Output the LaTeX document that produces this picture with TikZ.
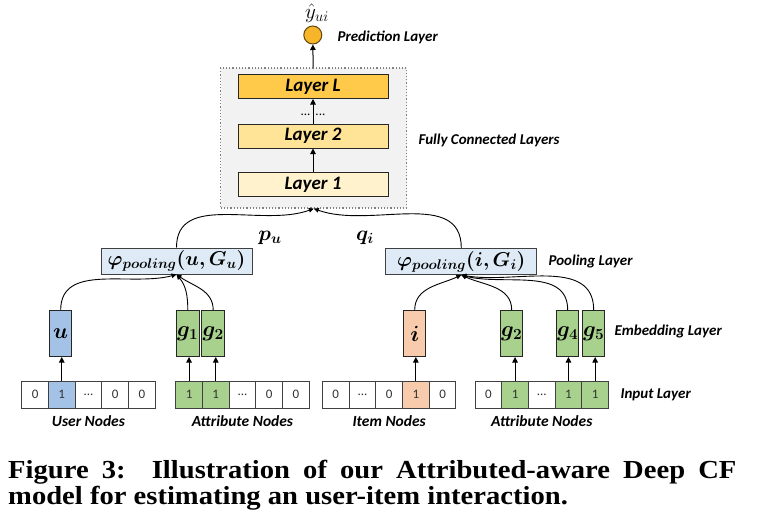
\RequirePackage{fix-cm}
\documentclass[tikz,border=0pt]{standalone}
\usepackage{bm}
\usepackage{fontspec}
\newfontfamily\calfont{Carlito}
\newfontfamily\capfont{Liberation Serif}
\usetikzlibrary{arrows.meta, positioning}
\definecolor{userblue}{HTML}{A4C2E6}
\definecolor{poolblue}{HTML}{DEEBF7}
\definecolor{attrgreen}{HTML}{A9D18E}
\definecolor{itemsalmon}{HTML}{F8CBAD}
\definecolor{layL}{HTML}{FFC94A}
\definecolor{layB}{HTML}{FFE397}
\definecolor{layA}{HTML}{FFF2CC}
\definecolor{predgold}{HTML}{F7B52A}
\definecolor{fcgray}{HTML}{F2F2F2}
\newcommand{\ellip}{...}

\tikzset{
  tag/.style={anchor=west, font=\calfont\bfseries\itshape\fontsize{15}{18}\selectfont},
  grp/.style={font=\calfont\bfseries\itshape\fontsize{15.5}{18}\selectfont},
  layerbox/.style={draw=black!85, line width=1pt, minimum width=150pt, minimum height=24pt,
    inner sep=0pt, font=\calfont\bfseries\itshape\fontsize{19}{22}\selectfont},
  poolbox/.style={draw=black!75, fill=poolblue, line width=1pt, minimum width=151pt,
    minimum height=26pt, inner sep=0pt, font=\fontsize{20}{24}\selectfont},
  embbox/.style={draw=black!85, line width=1pt, minimum width=22.5pt, minimum height=46pt,
    inner sep=0pt, font=\fontsize{22}{26}\selectfont},
  cell/.style={draw=black!75, line width=0.9pt, minimum width=26.7pt, minimum height=27pt,
    inner sep=0pt, text=black!80, font=\calfont\fontsize{13}{15}\selectfont},
  arr/.style={-{Triangle[length=5.5pt,width=5.5pt]}, line width=1pt},
  link/.style={-{Triangle[length=5pt,width=4.5pt]}, line width=0.9pt},
}

\begin{document}
\begin{tikzpicture}[x=1pt, y=-1pt]
  \useasboundingbox (0,0) rectangle (758,519);

  % fully connected part
  \node[draw=black!50, dotted, line width=1.2pt, fill=fcgray, minimum width=186pt,
    minimum height=140pt] (fc) at (313.8,138) {};
  \node[layerbox, fill=layL] (layL) at (313,86.5) {Layer L};
  \node[layerbox, fill=layB] (lay2) at (313,136) {Layer 2};
  \node[layerbox, fill=layA] (lay1) at (313,184.5) {Layer 1};
  \node[font=\calfont\fontsize{13}{15}\selectfont, inner sep=0pt] (dots) at (313,115) {\ellip\hspace{5pt}\ellip};
  \draw[arr] (lay1) -- (lay2);
  \draw[arr] (lay2) -- (layL);
  \node[tag] (fclbl) at (415,140) {Fully Connected Layers};

  % prediction
  \node[circle, draw=black!60!predgold, fill=predgold, line width=1pt, minimum size=18pt,
    inner sep=0pt] (pred) at (312.8,35) {};
  \node[font=\fontsize{21}{24}\selectfont, inner sep=0pt, anchor=south] (yhat) at (317,23) {$\hat{y}_{ui}$};
  \node[tag] (predlbl) at (334,37) {Prediction Layer};
  \draw[arr] (fc) -- (pred);

  % pooling
  \node[poolbox] (pu) at (176.5,261) {$\bm{\varphi_{pooling}(u,G_u)}$};
  \node[poolbox] (pi) at (461.3,261.5) {$\bm{\varphi_{pooling}(i,G_i)}$};
  \node[tag] (poollbl) at (545,261) {Pooling Layer};
  \node[font=\fontsize{21}{24}\selectfont] (pvec) at (270,238) {$\bm{p_u}$};
  \node[font=\fontsize{21}{24}\selectfont] (qvec) at (365,238) {$\bm{q_i}$};
  \draw[link] (pu.north) to[out=90, in=200] (fc.south);
  \draw[link] (pi.north) to[out=90, in=-20] (fc.south);

  % embeddings
  \node[embbox, fill=userblue] (eu) at (60.7,333.5) {$\bm{u}$};
  \node[embbox, fill=attrgreen] (eg1) at (187.8,333.5) {$\bm{g_1}$};
  \node[embbox, fill=attrgreen] (eg2) at (213.2,333.5) {$\bm{g_2}$};
  \node[embbox, fill=itemsalmon] (ei) at (414.7,333.5) {$\bm{i}$};
  \node[embbox, fill=attrgreen] (eh2) at (511.7,333.5) {$\bm{g_2}$};
  \node[embbox, fill=attrgreen] (eh4) at (567.7,333.5) {$\bm{g_4}$};
  \node[embbox, fill=attrgreen] (eh5) at (593.7,333.5) {$\bm{g_5}$};
  \node[tag] (emblbl) at (611,331) {Embedding Layer};

  \draw[link] (eu.north) to[out=90, in=195] (pu.south);
  \draw[link] (eg1.north) to[out=90, in=-50] (pu.south);
  \draw[link] (eg2.north) to[out=90, in=-35] (pu.south);
  \draw[link] (ei.north) to[out=90, in=205] (pi.south);
  \draw[link] (eh2.north) to[out=90, in=-25] (pi.south);
  \draw[link] (eh4.north) to[out=90, in=-15] (pi.south);
  \draw[link] (eh5.north) to[out=90, in=-10] (pi.south);

  % input one-hot vectors
  \foreach \t/\c [count=\k] in {0/white,1/userblue,\ellip/white,0/white,0/white}
    \node[cell, fill=\c] (ua\k) at (35.05+26.7*\k-26.7,394.5) {\t};
  \foreach \t/\c [count=\k] in {1/attrgreen,1/attrgreen,\ellip/white,0/white,0/white}
    \node[cell, fill=\c] (ga\k) at (189.05+26.7*\k-26.7,394.5) {\t};
  \foreach \t/\c [count=\k] in {0/white,\ellip/white,0/white,1/itemsalmon,0/white}
    \node[cell, fill=\c] (ia\k) at (335.75+26.7*\k-26.7,394.5) {\t};
  \foreach \t/\c [count=\k] in {0/white,1/attrgreen,\ellip/white,1/attrgreen,1/attrgreen}
    \node[cell, fill=\c] (ha\k) at (488.35+26.7*\k-26.7,394.5) {\t};
  \node[tag] (inlbl) at (617,395) {Input Layer};

  \draw[arr] (ua2.north) -- (ua2.north |- eu.south);
  \draw[arr] (ga1.north) -- (ga1.north |- eg1.south);
  \draw[arr] (ga2.north) -- (ga2.north |- eg2.south);
  \draw[arr] (ia4.north) -- (ia4.north |- ei.south);
  \draw[arr] (ha2.north) -- (ha2.north |- eh2.south);
  \draw[arr] (ha4.north) -- (ha4.north |- eh4.south);
  \draw[arr] (ha5.north) -- (ha5.north |- eh5.south);

  \node[grp, below=4pt of ua3] (users) {User Nodes};
  \node[grp, below=4pt of ga3] (uattrs) {Attribute Nodes};
  \node[grp, below=4pt of ia3] (items) {Item Nodes};
  \node[grp, below=4pt of ha3] (iattrs) {Attribute Nodes};

  % caption
  \node[anchor=base west, inner sep=0pt, font=\capfont\bfseries\fontsize{26}{30}\selectfont]
    (cap1) at (8,478) {\scalebox{1.1}[1]{\makebox[662pt][s]{Figure 3:\ \ Illustration of our Attributed-aware Deep CF}}};
  \node[anchor=base west, inner sep=0pt, font=\capfont\bfseries\fontsize{26}{30}\selectfont]
    (cap2) at (8,504) {\scalebox{1.1}[1]{model for estimating an user-item interaction.}};
\end{tikzpicture}
\end{document}
